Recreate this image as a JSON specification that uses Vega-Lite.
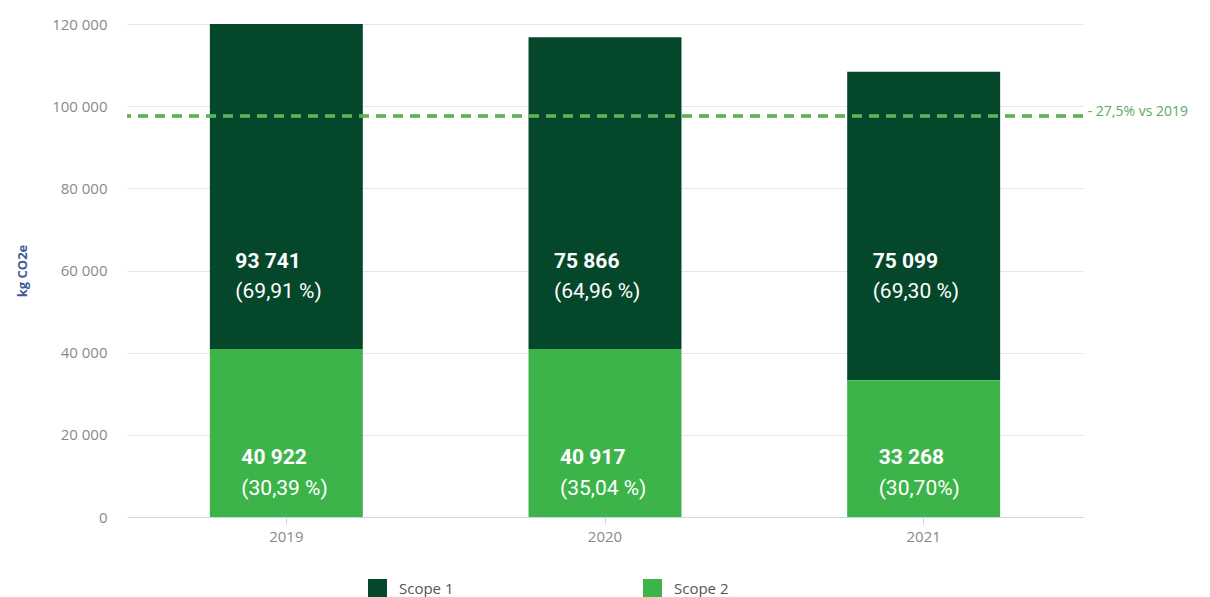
{
  "$schema": "https://vega.github.io/schema/vega-lite/v6.json",
  "width": 956,
  "height": 493,
  "autosize": {"type": "none"},
  "padding": {"left": 127, "top": 24, "right": 127, "bottom": 80},
  "background": "white",
  "config": {
    "locale": {"number": {"decimal": ",", "thousands": " ", "grouping": [3], "currency": ["", ""]}},
    "view": {"stroke": null},
    "font": "Open Sans"
  },
  "data": {
    "values": [
      {"year": "2019", "scope": "Scope 1", "value": 93741, "pct": "(69,91 %)"},
      {"year": "2019", "scope": "Scope 2", "value": 40922, "pct": "(30,39 %)"},
      {"year": "2020", "scope": "Scope 1", "value": 75866, "pct": "(64,96 %)"},
      {"year": "2020", "scope": "Scope 2", "value": 40917, "pct": "(35,04 %)"},
      {"year": "2021", "scope": "Scope 1", "value": 75099, "pct": "(69,30 %)"},
      {"year": "2021", "scope": "Scope 2", "value": 33268, "pct": "(30,70%)"}
    ]
  },
  "layer": [
    {
      "mark": {"type": "bar", "clip": true},
      "encoding": {
        "x": {
          "field": "year",
          "type": "nominal",
          "scale": {"paddingInner": 0.52, "paddingOuter": 0.26},
          "axis": {
            "title": null,
            "labelAngle": 0,
            "domainColor": "#ccd6eb",
            "tickColor": "#ccd6eb",
            "tickSize": 7,
            "labelPadding": 5,
            "labelFontSize": 15,
            "labelColor": "#8a8a8a",
            "grid": false
          }
        },
        "y": {
          "field": "value",
          "type": "quantitative",
          "stack": "zero",
          "scale": {"domain": [0, 120000], "nice": false},
          "axis": {
            "title": "kg CO2e",
            "titleColor": "#3d5a98",
            "titleFontWeight": "bold",
            "titleFontSize": 13,
            "titlePadding": 22,
            "domain": false,
            "ticks": false,
            "labelPadding": 20,
            "labelFontSize": 15,
            "labelColor": "#8a8a8a",
            "values": [0, 20000, 40000, 60000, 80000, 100000, 120000],
            "labelExpr": "replace(format(datum.value, ',d'), ',', ' ')",
            "gridColor": "#e6e6e6"
          }
        },
        "color": {
          "field": "scope",
          "type": "nominal",
          "scale": {"domain": ["Scope 1", "Scope 2"], "range": ["#05472a", "#3cb44a"]},
          "legend": {
            "title": null,
            "orient": "none",
            "legendX": 241,
            "legendY": 555,
            "direction": "horizontal",
            "columnPadding": 189,
            "symbolType": "square",
            "symbolSize": 361,
            "symbolStrokeWidth": 0,
            "labelFontSize": 15,
            "labelColor": "#555555",
            "labelOffset": 12,
            "padding": 0
          }
        },
        "order": {"field": "scope", "sort": "descending"}
      }
    },
    {
      "mark": {"type": "rule", "strokeDash": [10, 7], "strokeWidth": 2.5, "color": "#5cb35c"},
      "encoding": {"y": {"datum": 97630}}
    },
    {
      "data": {"values": [{"year": "2021", "label": "- 27,5% vs 2019"}]},
      "mark": {"type": "text", "align": "left", "baseline": "middle", "dx": 164, "dy": -4, "fontSize": 14, "color": "#5daa5d", "font": "Open Sans"},
      "encoding": {
        "x": {"field": "year", "type": "nominal"},
        "y": {"datum": 97630},
        "text": {"field": "label"}
      }
    },
    {
      "transform": [{"filter": "datum.scope === 'Scope 1'"}],
      "mark": {"type": "text", "align": "left", "baseline": "middle", "dx": -51, "fontSize": 21, "fontWeight": "bold", "color": "white", "font": "Roboto"},
      "encoding": {"x": {"field": "year", "type": "nominal"}, "y": {"datum": 62069}, "text": {"field": "value", "type": "quantitative", "format": ","}}
    },
    {
      "transform": [{"filter": "datum.scope === 'Scope 1'"}],
      "mark": {"type": "text", "align": "left", "baseline": "middle", "dx": -51, "fontSize": 21, "color": "white", "font": "Roboto"},
      "encoding": {"x": {"field": "year", "type": "nominal"}, "y": {"datum": 54767}, "text": {"field": "pct"}}
    },
    {
      "transform": [{"filter": "datum.scope === 'Scope 2'"}],
      "mark": {"type": "text", "align": "left", "baseline": "middle", "dx": -45, "fontSize": 21, "fontWeight": "bold", "color": "white", "font": "Roboto"},
      "encoding": {"x": {"field": "year", "type": "nominal"}, "y": {"datum": 14361}, "text": {"field": "value", "type": "quantitative", "format": ","}}
    },
    {
      "transform": [{"filter": "datum.scope === 'Scope 2'"}],
      "mark": {"type": "text", "align": "left", "baseline": "middle", "dx": -45, "fontSize": 21, "color": "white", "font": "Roboto"},
      "encoding": {"x": {"field": "year", "type": "nominal"}, "y": {"datum": 6815}, "text": {"field": "pct"}}
    }
  ]
}
